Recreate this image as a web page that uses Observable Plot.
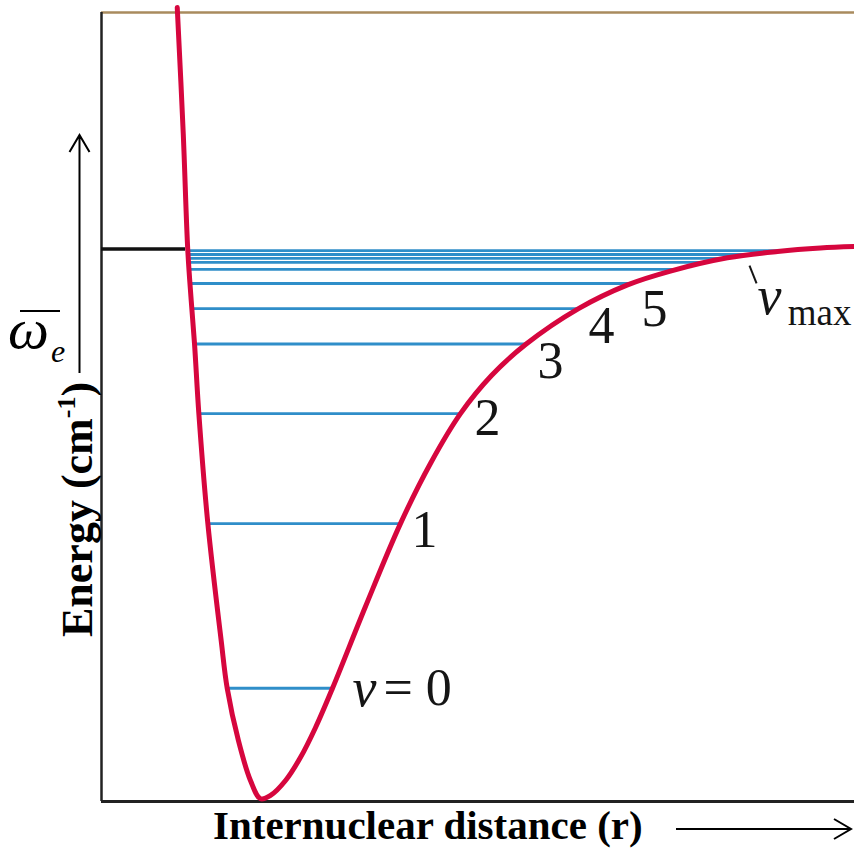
<!DOCTYPE html>
<html><head><meta charset="utf-8">
<script src="https://cdn.jsdelivr.net/npm/d3@7"></script>
<script src="https://cdn.jsdelivr.net/npm/@observablehq/plot@0.6"></script>
<style>html,body{margin:0;padding:0;background:#fff;} #chart{width:854px;height:849px;}</style>
</head><body><div id="chart"></div>
<script>
// Potential energy curve (r in arbitrary units, E as fraction of dissociation energy)
const curveR = [0.505, 0.545, 0.575, 0.598, 0.620, 0.649, 0.709, 0.798, 0.838, 0.913, 0.993, 1.06, 1.127, 1.227, 1.327, 1.427, 1.54, 1.76, 1.993, 2.193, 2.393, 2.6, 2.827, 3.18, 3.507, 3.793, 4.173, 4.507, 4.793, 5.02];
const curveE = [1.437, 1.209, 0.999, 0.907, 0.829, 0.702, 0.503, 0.291, 0.205, 0.110, 0.038, 0.005, 0.011, 0.038, 0.080, 0.134, 0.205, 0.353, 0.503, 0.6118, 0.702, 0.771, 0.827, 0.892, 0.935, 0.960, 0.984, 0.9955, 1.0018, 1.0045];

// Vibrational levels
const levelV = [0, 1, 2, 3, 4, 5, 6, 7, 8, 9, 10];
const levelE = [0.205, 0.503, 0.702, 0.828, 0.892, 0.9375, 0.963, 0.9756, 0.983, 0.990, 0.997];
const levelLeft = [0.838, 0.709, 0.649, 0.620, 0.602, 0.592, 0.587, 0.583, 0.581, 0.579, 0.576];
const levelRight = [1.54, 1.993, 2.393, 2.827, 3.18, 3.517, 3.813, 4.033, 4.158, 4.353, 4.587];

// Level number labels
const numLabels = ["1", "2", "3", "4", "5"];
const numLabelR = [2.153, 2.573, 2.993, 3.333, 3.687];
const numLabelE = [0.4905, 0.693, 0.796, 0.860, 0.890];

const dissociationE = 1.0;
const dissociationR = [0, 0.56];
const rMax = 5.02, eMax = 1.428;

const curve = curveR.map((r, i) => ({r, E: curveE[i]}));
const levels = levelV.map((v, i) => ({v, E: levelE[i], left: levelLeft[i], right: levelRight[i]}));
const nums = numLabels.map((t, i) => ({t, r: numLabelR[i], E: numLabelE[i]}));
const vItalic = [{t: "v", r: 1.673, E: 0.205}, {t: "v", r: 4.373, E: 0.914}];
const vEq = [{t: "= 0", r: 1.88, E: 0.205}];
const vMaxSub = [{t: "max", r: 4.575, E: 0.884}];
const vMaxTick = [{r1: 4.32, E1: 0.970, r2: 4.367, E2: 0.9376}];
const diss = [{E: dissociationE, x1: dissociationR[0], x2: dissociationR[1]}];

const W = 854, H = 849, mL = 101, mT = 12, mR = 0, mB = 48;
const serif = "'Liberation Serif', 'Times New Roman', serif";

const plot = Plot.plot({
  width: W, height: H,
  marginLeft: mL, marginTop: mT, marginRight: mR, marginBottom: mB,
  x: {domain: [0, rMax], axis: null},
  y: {domain: [0, eMax], axis: null},
  style: {background: "white", overflow: "visible", fontFamily: serif},
  marks: [
    Plot.ruleY([eMax], {stroke: "#a98b5e", strokeWidth: 2.5}),
    Plot.ruleX([0], {stroke: "#222", strokeWidth: 2.5}),
    Plot.ruleY([0], {stroke: "#222", strokeWidth: 3}),
    Plot.ruleY(diss, {y: "E", x1: "x1", x2: "x2", stroke: "#111", strokeWidth: 3.5}),
    Plot.ruleY(levels, {y: "E", x1: "left", x2: "right", stroke: "#2f8ec9", strokeWidth: 2.8}),
    Plot.line(curve, {x: "r", y: "E", curve: "catmull-rom", stroke: "#d6063e", strokeWidth: 5}),
    Plot.text(nums, {x: "r", y: "E", text: "t", fontSize: 52, fill: "#151515"}),
    Plot.text(vItalic, {x: "r", y: "E", text: "t", fontSize: 54, fontStyle: "italic", textAnchor: "start", fill: "#151515"}),
    Plot.text(vEq, {x: "r", y: "E", text: "t", fontSize: 52, textAnchor: "start", fill: "#151515"}),
    Plot.text(vMaxSub, {x: "r", y: "E", text: "t", fontSize: 37, textAnchor: "start", fill: "#151515"}),
    Plot.link(vMaxTick, {x1: "r1", y1: "E1", x2: "r2", y2: "E2", stroke: "#151515", strokeWidth: 2})
  ]
});
document.getElementById("chart").appendChild(plot);

const svg = d3.select(plot);
const g = svg.append("g").attr("font-family", serif).attr("fill", "#000").attr("text-anchor", "start");

// X axis label + arrow
g.append("text").attr("x", 213).attr("y", 839).attr("text-anchor", "start")
  .attr("font-size", 41).attr("font-weight", "bold").text("Internuclear distance (r)");
g.append("path").attr("d", "M676,829H851M834,819L851,829L834,839")
  .attr("fill", "none").attr("stroke", "#000").attr("stroke-width", 2);

// Y axis label (rotated) with superscript
const yl = g.append("text").attr("transform", "translate(92,637) rotate(-90)").attr("text-anchor", "start")
  .attr("font-size", 44).attr("font-weight", "bold");
yl.append("tspan").text("Energy (cm");
yl.append("tspan").attr("font-size", 26).attr("dy", -17).text("-1");
yl.append("tspan").attr("dy", 17).text(")");

// Y arrow
g.append("path").attr("d", "M79.5,373V135M69.5,152L79.5,135L89.5,152")
  .attr("fill", "none").attr("stroke", "#000").attr("stroke-width", 2);

// omega-bar_e label
g.append("text").attr("x", 8).attr("y", 348).attr("text-anchor", "start").attr("font-size", 58).attr("font-style", "italic").text("ω");
g.append("text").attr("x", 51).attr("y", 362).attr("text-anchor", "start").attr("font-size", 32).attr("font-style", "italic").text("e");
g.append("line").attr("x1", 20).attr("x2", 60).attr("y1", 311).attr("y2", 311)
  .attr("stroke", "#000").attr("stroke-width", 2);
</script>
</body></html>
